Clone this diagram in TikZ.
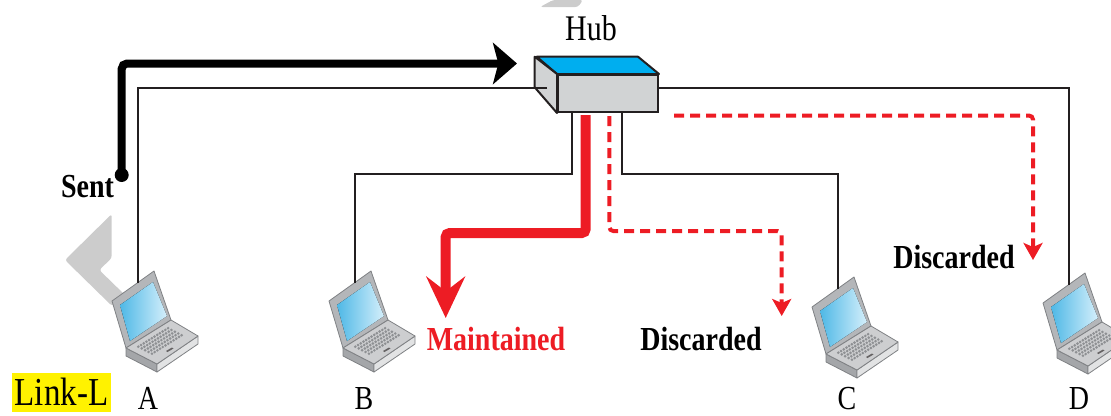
\documentclass[tikz,border=0pt]{standalone}
\usepackage{fontspec}
\setmainfont{Liberation Serif}
\usepackage{graphicx}
\usetikzlibrary{arrows.meta,calc}

\definecolor{hubblue}{HTML}{00AEEF}
\definecolor{hubgray}{HTML}{D1D3D4}
\definecolor{linkred}{HTML}{ED1C24}
\definecolor{inkblack}{HTML}{231F20}
\definecolor{scrdark}{HTML}{4FB8E6}
\definecolor{scrlight}{HTML}{D4EFFB}
\definecolor{lapedge}{HTML}{7F8184}
\definecolor{lapframe}{HTML}{B4B6B9}
\definecolor{lapbase}{HTML}{CDCED0}
\definecolor{lapdark}{HTML}{A4A6A9}
\definecolor{laplight}{HTML}{E2E3E4}
\definecolor{lapkey}{HTML}{8E9093}

% slightly taller lettering
\newcommand{\tallbox}[1]{\scalebox{1}[1.2]{#1}}

\tikzset{
  laptop/.pic={
    % lid
    \filldraw[draw=lapedge, fill=lapframe, line width=0.6pt, line join=round]
      (22,43) -- (64,13) -- (81,62) -- (36,90) -- cycle;
    \fill[left color=scrdark, right color=scrlight]
      (30,47) -- (63,24) -- (77,58) -- (40,83) -- cycle;
    % base
    \filldraw[draw=lapedge, fill=lapdark, line width=0.6pt, line join=round]
      (36,90) -- (67,106) -- (67,114) -- (36,98) -- cycle;
    \filldraw[draw=lapedge, fill=laplight, line width=0.6pt, line join=round]
      (67,106) -- (108,78) -- (108,86) -- (67,114) -- cycle;
    \filldraw[draw=lapedge, fill=lapbase, line width=0.6pt, line join=round]
      (36,90) -- (81,62) -- (108,78) -- (67,106) -- cycle;
    % keys
    \foreach \i in {0,...,11}
      \foreach \j in {0,...,4}
        \fill[lapkey] ({36+(0.15+0.06*\i)*45+(0.18+0.11*\j)*31},{90-(0.15+0.06*\i)*28+(0.18+0.11*\j)*16}) circle (1.1pt);
    % touchpad slot
    \fill[inkblack!70] (76,93) -- (82,89.5) -- (83.5,90.5) -- (77.5,94) -- cycle;
    \coordinate (-port) at (48,25);
  }
}

\begin{document}
\begin{tikzpicture}[
  x=0.75pt, y=-0.75pt,
  wmark/.style={fill=gray!40, rounded corners=2pt},
  hubfront/.style={rectangle, draw=inkblack, line width=1.5pt, fill=hubgray, minimum width=75pt, minimum height=27.75pt, inner sep=0pt},
  hubface/.style={draw=inkblack, line width=1.5pt, line join=round},
  link/.style={draw=inkblack, line width=1.4pt},
  sentpath/.style={draw=black, line width=6pt, rounded corners=4pt, -{Stealth[length=18pt, width=31pt, inset=4pt]}},
  keptpath/.style={draw=linkred, line width=7.5pt, rounded corners=3pt, -{Stealth[length=31pt, width=29pt, inset=11pt]}},
  droppath/.style={draw=linkred, line width=3pt, dash pattern=on 7.5pt off 4.5pt, rounded corners=3pt, -{Stealth[length=12.75pt, width=14.25pt, inset=3pt]}},
  lbl/.style={font=\fontsize{21pt}{24pt}\selectfont\bfseries, anchor=base, inner sep=0pt},
  pcname/.style={font=\fontsize{21pt}{24pt}\selectfont, anchor=base, inner sep=0pt}
]
\useasboundingbox (0,0) rectangle (1111,415);

% watermark bits
\fill[wmark] (111.7,214) -- (65,260) -- (112,306) -- (126,296) -- (99.3,270) -- (111.7,258) -- cycle;
\fill[wmark] (540,7) -- (553,0) -- (583,0) -- (578,7) -- cycle;

% Hub
\node[hubfront] (hub) at (608,93.5) {};
\filldraw[hubface, fill=hubblue] (hub.north west) -- (hub.north east) -- ++(-21,-17.3) -- ++(-101.3,0) -- cycle;
\filldraw[hubface, fill=hubgray] (hub.north west) -- ++(-22.3,-17.3) -- ++(0,30.6) -- (hub.south west) -- cycle;
\node[pcname, font=\fontsize{22.5pt}{26pt}\selectfont] (hubtxt) at (591,40) {\tallbox{Hub}};

\coordinate (hubA) at ($(hub.west)+(-10,-5.5)$);
\coordinate (hubD) at ($(hub.east)+(0,-5.5)$);
\coordinate (hubB) at ($(hub.south)+(-36.3,0)$);
\coordinate (hubC) at ($(hub.south)+(14,0)$);
\coordinate (hubM) at ($(hub.south)+(-22.3,2)$);
\coordinate (hubN) at ($(hub.south)+(1.3,3)$);
\coordinate (hubE) at ($(hub.east)+(15,22)$);
\coordinate (hubIn) at ($(hub.west)+(-40,-30)$);

% Stations
\pic (lapA) at (90,258) {laptop};
\pic (lapB) at (307,258) {laptop};
\pic (lapC) at (790,264) {laptop};
\pic (lapD) at (1021,260) {laptop};

\node[pcname] (nameA) at (148,409) {\tallbox{A}};
\node[pcname] (nameB) at (364,409) {\tallbox{B}};
\node[pcname] (nameC) at (847,409) {\tallbox{C}};
\node[pcname] (nameD) at (1079,409) {\tallbox{D}};

% Links
\draw[link] (hubA) -| (lapA-port);
\draw[link] (hubD) -| (lapD-port);
\draw[link] (hubB) -- ++(0,61) -| (lapB-port);
\draw[link] (hubC) -- ++(0,61) -| (lapC-port);

% Frame paths
\coordinate (sentdot) at (121.7,175);
\coordinate (keptTip) at (445.7,318);
\coordinate (dropC) at (781.7,316);
\coordinate (dropD) at (1033,260);

\draw[sentpath] (sentdot) |- (hubIn);
\fill[black] (sentdot) circle (5.25pt);
\draw[keptpath] (hubM) -- ++(0,118) -| (keptTip);
\draw[droppath] (hubN) -- ++(0,115) -| (dropC);
\draw[droppath] (hubE) -| (dropD);

% Labels
\node[lbl] (sent) at (87.5,197) {\tallbox{Sent}};
\node[lbl, text=linkred] (kept) at (496,350.5) {\tallbox{Maintained}};
\node[lbl] (dropc) at (701,350) {\tallbox{Discarded}};
\node[lbl] (dropd) at (954,268) {\tallbox{Discarded}};
\node[fill=yellow, minimum width=74.25pt, minimum height=29.25pt, inner sep=0pt,
      font=\fontsize{24.75pt}{28pt}\selectfont] (linkL) at (61.5,392) {\tallbox{Link-L}};

\end{tikzpicture}
\end{document}
